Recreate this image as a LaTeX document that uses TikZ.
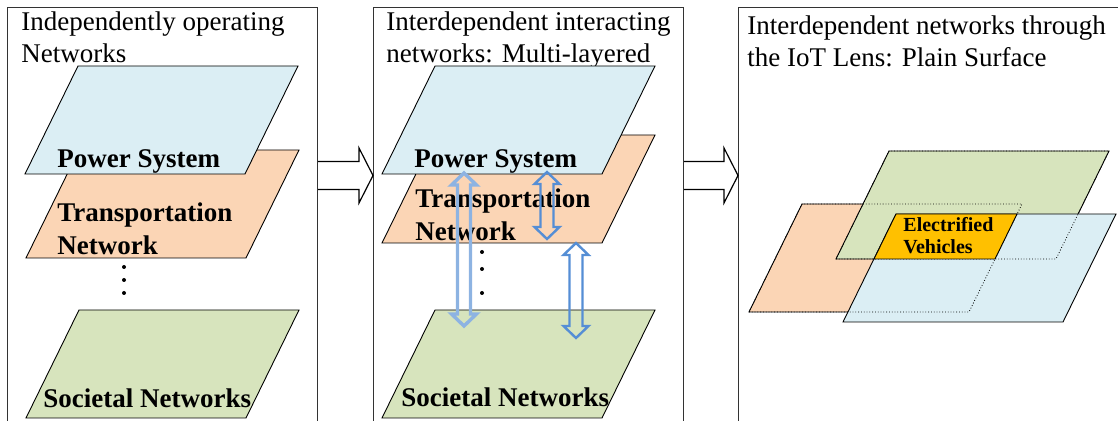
\documentclass[tikz,border=0pt]{standalone}
\usepackage{fontspec}
\setmainfont{Liberation Serif}
\usetikzlibrary{calc}
\definecolor{powerfill}{HTML}{DBEEF4}
\definecolor{transfill}{HTML}{FBD5B5}
\definecolor{socialfill}{HTML}{D7E4BD}
\definecolor{evfill}{HTML}{FFC000}
\definecolor{linklight}{HTML}{8DB3E2}
\definecolor{linkdark}{HTML}{558ED5}
\newcommand{\plane}[1]{#1 -- ++(220,0) -- ++(53,-108) -- ++(-220,0) -- cycle}
\tikzset{
  panel/.style={draw=black!80, line width=0.6pt, anchor=north west, inner sep=0pt,
    minimum width=155pt, minimum height=230pt},
  layer/.style={draw=black, line width=0.45pt},
  hidden/.style={draw=black, line width=0.4pt, densely dotted},
  heading/.style={font=\fontsize{13.5}{16}\selectfont, anchor=base west, align=left, inner sep=0pt},
  layername/.style={font=\fontsize{13.5}{16.5}\selectfont\bfseries, anchor=base west, align=left, inner sep=0pt},
  evname/.style={font=\fontsize{10}{11}\selectfont\bfseries, anchor=base west, align=left, inner sep=0pt},
  link/.style={line width=1.1pt, line join=miter, to path={
    let \p1=(\tikztostart), \p2=(\tikztotarget) in
    (\x1,\y1) -- (\x1+6.25pt,\y1-6pt) -- (\x1+3.25pt,\y1-6pt) -- (\x1+3.25pt,\y2+6pt)
    -- (\x1+6.25pt,\y2+6pt) -- (\x1,\y2) -- (\x1-6.25pt,\y2+6pt) -- (\x1-3.25pt,\y2+6pt)
    -- (\x1-3.25pt,\y1-6pt) -- (\x1-6.25pt,\y1-6pt) -- cycle}},
  bigarrow/.style={draw=black, line width=0.6pt, line join=miter, to path={
    let \p1=(\tikztostart), \p2=(\tikztotarget) in
    (\x1,\y1+7pt) -- (\x2-7pt,\y1+7pt) -- (\x2-7pt,\y1+13.75pt) -- (\x2,\y1)
    -- (\x2-7pt,\y1-13.75pt) -- (\x2-7pt,\y1-7pt) -- (\x1,\y1-7pt)}}
}

\begin{document}
\begin{tikzpicture}[x=0.5pt,y=-0.5pt]
\useasboundingbox (0,0) rectangle (1118,421);
\clip (0,0) rectangle (1118,421);

% --- Panels ---
\node[panel] (p1) at (7,7) {};
\node[panel] (p2) at (373,7) {};
\node[panel, minimum width=200pt] (p3) at (738,7) {};

% two-line texts sit on the baseline of their last line
\node[heading] (h1) at (21,63) {Independently operating\\Networks};
\node[heading] (h2) at (386,63) {Interdependent interacting\\networks: Multi-layered};
\node[heading] (h3) at (747,67) {Interdependent networks through\\the IoT Lens: Plain Surface};

% --- Independent layers ---
\filldraw[layer, fill=transfill] \plane{(26,258)};
\filldraw[layer, fill=powerfill] \plane{(25,174)};
\filldraw[layer, fill=socialfill] \plane{(26,418)};
\node[layername] (ps1) at (57,168) {Power System};
\node[layername] (tn1) at (57,255) {Transportation\\Network};
\node[layername] (sn1) at (43,408) {Societal Networks};
\foreach \y in {267,280,293} \fill (124,\y) circle (2);

% --- Multi-layered ---
\filldraw[layer, fill=transfill] \plane{(382,243)};
\filldraw[layer, fill=powerfill] \plane{(382,174)};
\filldraw[layer, fill=socialfill] \plane{(382,418)};
\node[layername] (ps2) at (414,168) {Power System};
\node[layername] (tn2) at (415,241) {Transportation\\Network};
\node[layername] (sn2) at (401,407) {Societal Networks};
\foreach \y in {252,269,293} \fill (482,\y) circle (2);

\coordinate (ps2a) at (464,173);
\coordinate (sn2a) at (464,326);
\coordinate (ps2b) at (547,172);
\coordinate (tn2b) at (547,239);
\coordinate (tn2c) at (576,243);
\coordinate (sn2c) at (576,338);
\draw[link, linklight, line width=1.7pt] (ps2a) to (sn2a);
\draw[link, linkdark, line width=1.2pt] (ps2b) to (tn2b);
\draw[link, linkdark, line width=1.2pt] (tn2c) to (sn2c);

% --- Plain surface ---
\filldraw[layer, fill=transfill] \plane{(749,312)};
\filldraw[layer, fill=socialfill] \plane{(836,259)};
\filldraw[layer, fill=powerfill] \plane{(843,322)};
\draw[hidden] \plane{(749,312)};
\draw[hidden] \plane{(836,259)};
\filldraw[layer, fill=evfill] (896,214) -- (1017,214) -- (995,259) -- (874,259) -- cycle;
\node[evname] (ev) at (903,254) {Electrified\\Vehicles};

% --- Transitions ---
\draw[bigarrow] (p1.east |- 0,175.5) to (p2.west |- 0,175.5);
\draw[bigarrow] (p2.east |- 0,175.5) to (p3.west |- 0,175.5);

\end{tikzpicture}
\end{document}
